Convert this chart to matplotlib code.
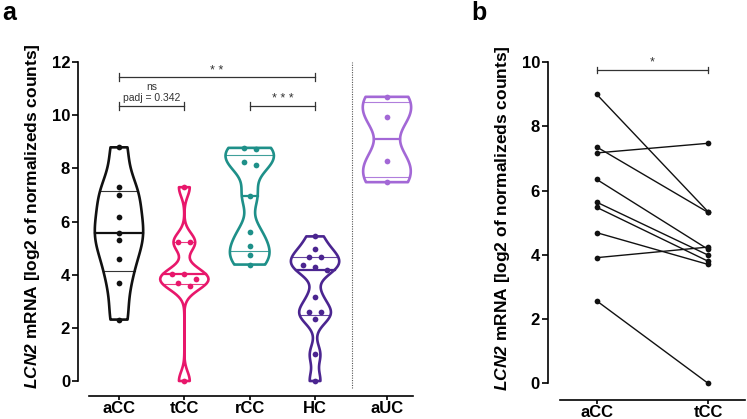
import numpy as np
import matplotlib
matplotlib.use("Agg")
import matplotlib.pyplot as plt

plt.rcParams['font.family'] = ['Liberation Sans', 'DejaVu Sans']
plt.rcParams['font.weight'] = 'bold'
plt.rcParams['mathtext.fontset'] = 'custom'
plt.rcParams['mathtext.it'] = 'Liberation Sans:style=italic:weight=bold'
plt.rcParams['mathtext.rm'] = 'Liberation Sans:style=italic:weight=bold'

# panel a: log2 normalized counts per group
groups = ['aCC', 'tCC', 'rCC', 'HC', 'aUC']
acc = [8.79, 7.28, 6.98, 6.18, 5.57, 5.32, 4.59, 3.69, 2.31]
tcc = [7.29, 5.22, 5.22, 4.01, 4.01, 3.83, 3.70, 3.59, 0.0]
rcc = [8.77, 8.74, 8.25, 8.12, 6.97, 5.62, 5.08, 4.73, 4.38]
hc = [5.44, 4.98, 4.68, 4.68, 4.35, 4.28, 4.18, 3.17, 2.61, 2.61, 2.33, 1.0, 0.0]
auc = [10.69, 9.92, 8.28, 7.48]
colors = ['#111111', '#E8176B', '#1E9089', '#4B2590', '#A368D6']
smooth = [0.38, 0.18, 0.26, 0.22, 0.42]   # kde bandwidth factor per violin

# panel b: paired samples
pair_labels = ['aCC', 'tCC']
b_acc = [9.0, 7.36, 7.17, 6.35, 5.64, 5.48, 4.69, 3.91, 2.57]
b_tcc = [5.34, 5.32, 7.47, 4.17, 3.99, 3.80, 3.70, 4.24, 0.0]

YLABEL = r'$\mathit{LCN2}$ mRNA [log2 of normalizeds counts]'
TXT = '#333333'


def swarm_offsets(vals, step, thr):
    # group close values into rows and centre each row
    vals = np.asarray(vals, float)
    order = np.argsort(-vals)
    offs = np.zeros(len(vals))
    rows = []
    for i in order:
        if rows and rows[-1][0] - vals[i] <= thr:
            rows[-1][1].append(i)
        else:
            rows.append([vals[i], [i]])
    for _, idx in rows:
        n = len(idx)
        for k, i in enumerate(idx):
            offs[i] = (k - (n - 1) / 2) * step
    return offs


def bracket(ax, x0, x1, y, h, text, ty, size=7.5):
    ax.plot([x0, x1], [y, y], color=TXT, lw=0.9, clip_on=False)
    for x in (x0, x1):
        ax.plot([x, x], [y - h, y + h], color=TXT, lw=0.9, clip_on=False)
    ax.text((x0 + x1) / 2, ty, text, ha='center', va='center', fontsize=size,
            fontweight='normal', color=TXT, clip_on=False)


def style_axis(ax):
    for s in ('top', 'right'):
        ax.spines[s].set_visible(False)
    for s in ('left', 'bottom'):
        ax.spines[s].set_linewidth(1.2)
    ax.tick_params(axis='both', direction='out', width=1.2, labelsize=12, pad=1.5)
    ax.tick_params(axis='y', length=4)
    ax.tick_params(axis='x', length=3, labelsize=12, pad=0.5)


fig = plt.figure(figsize=(7.47, 4.19), dpi=100)

# ---------------- panel a ----------------
ax = fig.add_axes([0.104, 0.0907, 0.449, 0.7613])
data = [acc, tcc, rcc, hc, auc]
pos = [0, 1, 2, 3, 4.1]
for col, p, d, bw in zip(colors, pos, data, smooth):
    parts = ax.violinplot([d], positions=[p], widths=0.74, showextrema=False,
                          bw_method=bw)
    body = parts['bodies'][0]
    body.set_facecolor('none')
    body.set_edgecolor(col)
    body.set_linewidth(1.9)
    body.set_alpha(1)
    body.set_clip_on(False)
    verts = body.get_paths()[0].vertices
    right = verts[verts[:, 0] > p]
    srt = np.argsort(right[:, 1])
    ry, rx = right[srt, 1], right[srt, 0]
    q1, med, q3 = np.percentile(d, [25, 50, 75], method='weibull')
    for q, lw in ((q1, 0.8), (med, 1.6), (q3, 0.8)):
        hw = np.interp(q, ry, rx) - p
        ax.plot([p - hw, p + hw], [q, q], color=col, lw=lw, alpha=1 if lw > 1 else 0.85)
    offs = swarm_offsets(d, 0.185, 0.2)
    ax.scatter(np.full(len(d), p) + offs, d, s=17, color=col, zorder=3,
               clip_on=False, linewidths=0)

ax.plot([3.56, 3.56], [-0.26, 12], color='#555555', lw=0.8, ls=(0, (1, 1.2)),
        clip_on=False)

ax.set_ylim(0, 12)
ax.set_yticks(range(0, 13, 2))
ax.set_xlim(-0.632, 4.5)
ax.set_xticks(pos)
ax.set_xticklabels(groups)
style_axis(ax)
ax.spines['bottom'].set_position(('outward', 11))
ax.spines['bottom'].set_bounds(-0.46, 4.5)
ax.set_ylabel(YLABEL, fontsize=12.5, fontweight='bold')
ax.yaxis.set_label_coords(-0.106, 0.517)

bracket(ax, 0, 3, 11.45, 0.15, '* *', 11.68, size=9)
bracket(ax, 0, 1, 10.35, 0.15, 'ns\npadj = 0.342', 10.85)
bracket(ax, 2, 3, 10.35, 0.15, '* * *', 10.62, size=9)

# ---------------- panel b ----------------
bx = fig.add_axes([0.733, 0.0852, 0.264, 0.7668])
for a, t in zip(b_acc, b_tcc):
    bx.plot([0, 1], [a, t], color='#111111', lw=1.0, zorder=2)
bx.scatter(np.zeros(len(b_acc)), b_acc, s=17, color='#111111', zorder=3,
           clip_on=False, linewidths=0)
bx.scatter(np.ones(len(b_tcc)), b_tcc, s=17, color='#111111', zorder=3,
           clip_on=False, linewidths=0)
bx.set_ylim(0, 10)
bx.set_yticks(range(0, 11, 2))
bx.set_xlim(-0.439, 1.329)
bx.set_xticks([0, 1])
bx.set_xticklabels(pair_labels)
style_axis(bx)
bx.spines['bottom'].set_position(('outward', 12))
bx.spines['bottom'].set_bounds(-0.329, 1.329)
bx.set_ylabel(YLABEL, fontsize=12.5, fontweight='bold')
bx.yaxis.set_label_coords(-0.182, 0.514)
bracket(bx, 0, 1, 9.75, 0.1, '*', 9.98, size=9)

fig.text(0.003, 0.952, 'a', fontsize=18, fontweight='bold')
fig.text(0.631, 0.952, 'b', fontsize=18, fontweight='bold')

fig.savefig('out.png', dpi=100)
